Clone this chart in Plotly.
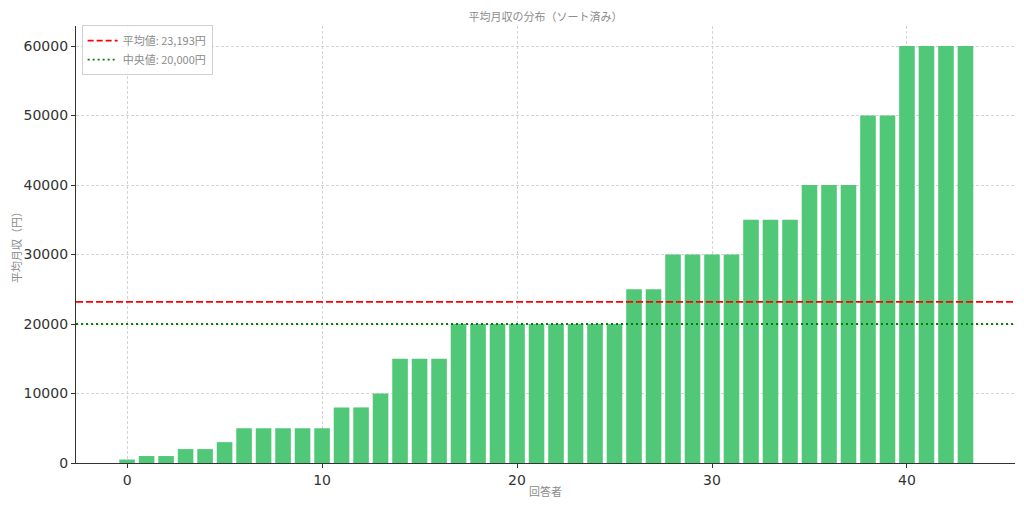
import numpy as np
import plotly.graph_objects as go

# Data (sorted monthly income per respondent)
respondents = list(range(44))
income = [500, 1000, 1000, 2000, 2000, 3000,
          5000, 5000, 5000, 5000, 5000,
          8000, 8000, 10000,
          15000, 15000, 15000,
          20000, 20000, 20000, 20000, 20000, 20000, 20000, 20000, 20000,
          25000, 25000,
          30000, 30000, 30000, 30000,
          35000, 35000, 35000,
          40000, 40000, 40000,
          50000, 50000,
          60000, 60000, 60000, 60000]
x_ticks = [0, 10, 20, 30, 40]
y_ticks = [0, 10000, 20000, 30000, 40000, 50000, 60000]

title_text = "平均月収の分布（ソート済み）"
x_title = "回答者"
y_title = "平均月収（円）"

mean_val = float(np.mean(income))
median_val = float(np.median(income))

jp_font = "Noto Sans CJK JP"
gray = "#8c8c8c"

W, H = 1008, 492

fig = go.Figure()
fig.add_trace(go.Bar(
    x=respondents, y=income, width=0.8,
    marker=dict(color="#50C878", line=dict(width=0)),
    showlegend=False, hoverinfo="x+y",
))

# legend entries
fig.add_trace(go.Scatter(
    x=[None], y=[None], mode="lines",
    line=dict(color="red", dash="6px,3px", width=1.8),
    name=f"平均値: {mean_val:,.0f}円",
))
fig.add_trace(go.Scatter(
    x=[None], y=[None], mode="lines",
    line=dict(color="green", dash="2px,3px", width=1.8),
    name=f"中央値: {median_val:,.0f}円",
))

fig.add_shape(type="line", xref="x domain", yref="y", x0=0, x1=1,
              y0=mean_val, y1=mean_val,
              line=dict(color="red", dash="7px,3px", width=1.8), layer="above")
fig.add_shape(type="line", xref="x domain", yref="y", x0=0, x1=1,
              y0=median_val, y1=median_val,
              line=dict(color="green", dash="2px,3px", width=1.8), layer="above")

fig.update_layout(
    width=W, height=H,
    margin=dict(l=68, r=1, t=18, b=H - 455, autoexpand=False),
    paper_bgcolor="white", plot_bgcolor="white",
    title=dict(text=title_text, x=0.5, xanchor="center", xref="paper",
               y=1 - 9 / H, yanchor="middle", automargin=False,
               font=dict(family=jp_font, size=11, color=gray)),
    legend=dict(x=0.006, y=1.002, xanchor="left", yanchor="top",
                bgcolor="rgba(255,255,255,0.85)", bordercolor="#d0d0d0",
                borderwidth=1, font=dict(family=jp_font, size=11, color=gray),
                itemwidth=30, tracegroupgap=0),
    bargap=0.2,
    showlegend=True,
)

fig.update_xaxes(
    range=[-2.62, 45.54], tickvals=x_ticks, ticktext=[str(v) for v in x_ticks],
    showgrid=True, gridcolor="#d4d4d4", griddash="3px,2px", gridwidth=0.8,
    showline=True, linecolor="#333333", linewidth=1.2,
    ticks="outside", ticklen=4, tickcolor="#333333",
    tickfont=dict(family="DejaVu Sans", size=14, color="#333333"),
    title=dict(text=x_title, font=dict(family=jp_font, size=11, color=gray), standoff=1),
    zeroline=False, mirror=False, automargin=False,
)
fig.update_yaxes(
    range=[0, 62878], tickvals=y_ticks, ticktext=[str(v) for v in y_ticks],
    showgrid=True, gridcolor="#d4d4d4", griddash="3px,2px", gridwidth=0.8,
    showline=True, linecolor="#333333", linewidth=1.2,
    ticks="outside", ticklen=4, tickcolor="#333333",
    tickfont=dict(family="DejaVu Sans", size=14, color="#333333"),
    title=dict(text=y_title, font=dict(family=jp_font, size=11, color=gray), standoff=1),
    zeroline=False, mirror=False, automargin=False,
)

fig.write_html("out.html")
